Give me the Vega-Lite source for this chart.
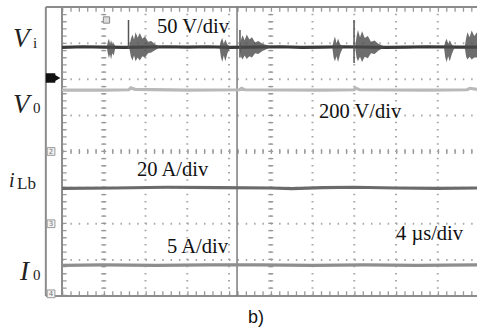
{
  "$schema": "https://vega.github.io/schema/vega-lite/v6.json",
  "width": 432,
  "height": 289,
  "padding": {"left": 45, "top": 7, "right": 0, "bottom": 33},
  "autosize": {"type": "none"},
  "background": "white",
  "config": {"view": {"stroke": null}},
  "datasets": {
    "hdots": [{"v": 1}, {"v": 2}, {"v": 3}, {"v": 4}, {"v": 5}, {"v": 6}, {"v": 7}],
    "hticks": [{"v": 4}, {"v": 7.94}, {"v": 0.06}],
    "vdots": [{"t": 4}, {"t": 8}, {"t": 12}, {"t": 16}, {"t": 20}, {"t": 24}, {"t": 28}, {"t": 32}, {"t": 36}],
    "vticks": [{"t": 4}, {"t": 20}, {"t": 0.2}],
    "hborders": [{"v": 0}, {"v": 8}],
    "vborders": [{"t": -1.55}, {"t": 0}],
    "cursor": [{"t": 16.77}],
    "traces": [
      {"series": "Vi", "t": 0, "v": 6.88}, {"series": "Vi", "t": 2, "v": 6.9}, {"series": "Vi", "t": 4, "v": 6.89}, {"series": "Vi", "t": 6, "v": 6.88}, {"series": "Vi", "t": 10, "v": 6.9}, {"series": "Vi", "t": 12, "v": 6.89}, {"series": "Vi", "t": 14, "v": 6.9}, {"series": "Vi", "t": 16, "v": 6.88}, {"series": "Vi", "t": 18, "v": 6.89}, {"series": "Vi", "t": 21, "v": 6.9}, {"series": "Vi", "t": 23, "v": 6.88}, {"series": "Vi", "t": 25, "v": 6.89}, {"series": "Vi", "t": 27, "v": 6.9}, {"series": "Vi", "t": 31, "v": 6.88}, {"series": "Vi", "t": 33, "v": 6.89}, {"series": "Vi", "t": 35, "v": 6.9}, {"series": "Vi", "t": 38, "v": 6.89}, {"series": "Vi", "t": 39.76, "v": 6.89},
      {"series": "V0", "t": 0, "v": 5.7}, {"series": "V0", "t": 4, "v": 5.7}, {"series": "V0", "t": 6.4, "v": 5.71}, {"series": "V0", "t": 6.6, "v": 5.76}, {"series": "V0", "t": 7, "v": 5.72}, {"series": "V0", "t": 12, "v": 5.7}, {"series": "V0", "t": 17, "v": 5.71}, {"series": "V0", "t": 17.2, "v": 5.75}, {"series": "V0", "t": 17.5, "v": 5.71}, {"series": "V0", "t": 25, "v": 5.7}, {"series": "V0", "t": 28, "v": 5.71}, {"series": "V0", "t": 28.1, "v": 5.76}, {"series": "V0", "t": 28.5, "v": 5.71}, {"series": "V0", "t": 35, "v": 5.7}, {"series": "V0", "t": 38.8, "v": 5.71}, {"series": "V0", "t": 39.1, "v": 5.75}, {"series": "V0", "t": 39.76, "v": 5.72},
      {"series": "iLb", "t": 0, "v": 2.98}, {"series": "iLb", "t": 5, "v": 2.99}, {"series": "iLb", "t": 10, "v": 3.01}, {"series": "iLb", "t": 15, "v": 3.0}, {"series": "iLb", "t": 20, "v": 2.99}, {"series": "iLb", "t": 22, "v": 2.97}, {"series": "iLb", "t": 25, "v": 3.0}, {"series": "iLb", "t": 28, "v": 3.01}, {"series": "iLb", "t": 32, "v": 2.99}, {"series": "iLb", "t": 36, "v": 2.98}, {"series": "iLb", "t": 39.76, "v": 2.99},
      {"series": "I0", "t": 0, "v": 0.85}, {"series": "I0", "t": 4, "v": 0.86}, {"series": "I0", "t": 9, "v": 0.85}, {"series": "I0", "t": 14, "v": 0.86}, {"series": "I0", "t": 19, "v": 0.86}, {"series": "I0", "t": 24, "v": 0.85}, {"series": "I0", "t": 29, "v": 0.86}, {"series": "I0", "t": 34, "v": 0.85}, {"series": "I0", "t": 39.76, "v": 0.86}
    ],
    "bursts": [
      {"b": 1, "t": 4.3, "hi": 6.91, "lo": 6.87}, {"b": 1, "t": 4.4, "hi": 7.05, "lo": 6.7}, {"b": 1, "t": 4.5, "hi": 7.12, "lo": 6.58}, {"b": 1, "t": 4.6, "hi": 6.98, "lo": 6.7}, {"b": 1, "t": 4.7, "hi": 7.08, "lo": 6.55}, {"b": 1, "t": 4.82, "hi": 6.97, "lo": 6.72}, {"b": 1, "t": 4.95, "hi": 7.0, "lo": 6.66}, {"b": 1, "t": 5.1, "hi": 6.92, "lo": 6.86},
      {"b": 2, "t": 6.45, "hi": 6.92, "lo": 6.86}, {"b": 2, "t": 6.6, "hi": 7.12, "lo": 6.62}, {"b": 2, "t": 6.75, "hi": 7.24, "lo": 6.52}, {"b": 2, "t": 6.9, "hi": 7.1, "lo": 6.66}, {"b": 2, "t": 7.05, "hi": 7.3, "lo": 6.5}, {"b": 2, "t": 7.25, "hi": 7.15, "lo": 6.6}, {"b": 2, "t": 7.45, "hi": 7.28, "lo": 6.52}, {"b": 2, "t": 7.7, "hi": 7.12, "lo": 6.64}, {"b": 2, "t": 7.95, "hi": 7.18, "lo": 6.6}, {"b": 2, "t": 8.25, "hi": 7.04, "lo": 6.72}, {"b": 2, "t": 8.55, "hi": 7.06, "lo": 6.74}, {"b": 2, "t": 8.9, "hi": 6.97, "lo": 6.8}, {"b": 2, "t": 9.3, "hi": 6.92, "lo": 6.87},
      {"b": 3, "t": 15.1, "hi": 6.91, "lo": 6.87}, {"b": 3, "t": 15.22, "hi": 7.06, "lo": 6.62}, {"b": 3, "t": 15.35, "hi": 7.14, "lo": 6.48}, {"b": 3, "t": 15.5, "hi": 6.98, "lo": 6.66}, {"b": 3, "t": 15.65, "hi": 7.1, "lo": 6.5}, {"b": 3, "t": 15.85, "hi": 6.96, "lo": 6.72}, {"b": 3, "t": 16.1, "hi": 6.91, "lo": 6.87},
      {"b": 4, "t": 17.0, "hi": 6.92, "lo": 6.86}, {"b": 4, "t": 17.15, "hi": 7.1, "lo": 6.62}, {"b": 4, "t": 17.3, "hi": 7.22, "lo": 6.55}, {"b": 4, "t": 17.5, "hi": 7.08, "lo": 6.66}, {"b": 4, "t": 17.7, "hi": 7.24, "lo": 6.56}, {"b": 4, "t": 17.95, "hi": 7.1, "lo": 6.64}, {"b": 4, "t": 18.2, "hi": 7.16, "lo": 6.6}, {"b": 4, "t": 18.5, "hi": 7.02, "lo": 6.72}, {"b": 4, "t": 18.8, "hi": 7.06, "lo": 6.7}, {"b": 4, "t": 19.2, "hi": 6.98, "lo": 6.78}, {"b": 4, "t": 19.9, "hi": 6.92, "lo": 6.87},
      {"b": 5, "t": 25.9, "hi": 6.91, "lo": 6.87}, {"b": 5, "t": 26.02, "hi": 7.06, "lo": 6.6}, {"b": 5, "t": 26.15, "hi": 7.18, "lo": 6.5}, {"b": 5, "t": 26.3, "hi": 7.0, "lo": 6.64}, {"b": 5, "t": 26.45, "hi": 7.12, "lo": 6.48}, {"b": 5, "t": 26.65, "hi": 6.97, "lo": 6.7}, {"b": 5, "t": 26.9, "hi": 6.91, "lo": 6.87},
      {"b": 6, "t": 28.1, "hi": 6.92, "lo": 6.86}, {"b": 6, "t": 28.22, "hi": 7.18, "lo": 6.6}, {"b": 6, "t": 28.35, "hi": 7.36, "lo": 6.5}, {"b": 6, "t": 28.55, "hi": 7.16, "lo": 6.62}, {"b": 6, "t": 28.75, "hi": 7.33, "lo": 6.48}, {"b": 6, "t": 29.0, "hi": 7.14, "lo": 6.62}, {"b": 6, "t": 29.3, "hi": 7.2, "lo": 6.58}, {"b": 6, "t": 29.6, "hi": 7.04, "lo": 6.72}, {"b": 6, "t": 29.95, "hi": 7.07, "lo": 6.7}, {"b": 6, "t": 30.3, "hi": 6.98, "lo": 6.79}, {"b": 6, "t": 30.8, "hi": 6.92, "lo": 6.87},
      {"b": 7, "t": 36.6, "hi": 6.91, "lo": 6.87}, {"b": 7, "t": 36.72, "hi": 7.04, "lo": 6.6}, {"b": 7, "t": 36.85, "hi": 7.12, "lo": 6.48}, {"b": 7, "t": 37.0, "hi": 6.98, "lo": 6.64}, {"b": 7, "t": 37.15, "hi": 7.08, "lo": 6.5}, {"b": 7, "t": 37.35, "hi": 6.96, "lo": 6.7}, {"b": 7, "t": 37.6, "hi": 6.91, "lo": 6.87},
      {"b": 8, "t": 38.6, "hi": 6.92, "lo": 6.86}, {"b": 8, "t": 38.72, "hi": 7.14, "lo": 6.62}, {"b": 8, "t": 38.85, "hi": 7.3, "lo": 6.55}, {"b": 8, "t": 39.05, "hi": 7.16, "lo": 6.62}, {"b": 8, "t": 39.25, "hi": 7.35, "lo": 6.55}, {"b": 8, "t": 39.5, "hi": 7.2, "lo": 6.6}, {"b": 8, "t": 39.76, "hi": 7.3, "lo": 6.6}
    ],
    "spikes": [
      {"t": 6.37, "hi": 7.64, "lo": 6.85},
      {"t": 17.05, "hi": 7.36, "lo": 6.6},
      {"t": 27.98, "hi": 7.64, "lo": 6.45}
    ],
    "annot": [
      {"label": "50 V/div", "t": 9.1, "v": 7.28},
      {"label": "200 V/div", "t": 24.62, "v": 4.93},
      {"label": "20 A/div", "t": 7.19, "v": 3.32},
      {"label": "5 A/div", "t": 10.06, "v": 1.19},
      {"label": "4 µs/div", "t": 32.0, "v": 1.55}
    ],
    "bigital": [
      {"label": "V", "t": -4.69, "v": 6.893},
      {"label": "V", "t": -4.69, "v": 5.066},
      {"label": "I", "t": -4.02, "v": 0.443}
    ],
    "smallital": [{"label": "i", "t": -5.08, "v": 3.017}],
    "subs": [
      {"label": "i", "t": -2.78, "v": 6.865},
      {"label": "0", "t": -2.78, "v": 5.066},
      {"label": "0", "t": -2.78, "v": 0.443}
    ],
    "subLb": [{"label": "Lb", "t": -4.31, "v": 2.962}],
    "caption": [{"label": "b)", "t": 17.82, "v": -0.747}],
    "chbox": [{"t": -1.05, "v": 4, "label": "2"}, {"t": -1.05, "v": 2, "label": "3"}, {"t": -1.05, "v": 0.06, "label": "4"}],
    "ch1": [{"t": -1.1, "v": 6.035}],
    "ch1arrow": [{"t": -0.45, "v": 6.035}],
    "trig": [{"t": 4.26, "v": 7.64}]
  },
  "layer": [
    {
      "data": {"name": "hdots"},
      "mark": {"type": "rule", "color": "#a8a8a8", "strokeWidth": 2, "strokeDash": [1.5, 6.85]},
      "encoding": {
        "y": {"field": "v", "type": "quantitative", "scale": {"domain": [0, 8], "nice": false, "zero": false}, "axis": null},
        "x": {"datum": 0, "type": "quantitative", "scale": {"domain": [-1.63, 39.76], "nice": false, "zero": false}, "axis": null},
        "x2": {"datum": 39.76}
      }
    },
    {
      "data": {"name": "hticks"},
      "mark": {"type": "rule", "color": "#999999", "strokeWidth": 5, "strokeDash": [1.3, 7.05]},
      "encoding": {
        "y": {"field": "v", "type": "quantitative", "scale": {"domain": [0, 8], "nice": false, "zero": false}, "axis": null},
        "x": {"datum": 0, "type": "quantitative", "scale": {"domain": [-1.63, 39.76], "nice": false, "zero": false}, "axis": null},
        "x2": {"datum": 39.76}
      }
    },
    {
      "data": {"name": "vdots"},
      "mark": {"type": "rule", "color": "#a8a8a8", "strokeWidth": 2, "strokeDash": [1.5, 5.7]},
      "encoding": {
        "x": {"field": "t", "type": "quantitative", "scale": {"domain": [-1.63, 39.76], "nice": false, "zero": false}, "axis": null},
        "y": {"datum": 0, "type": "quantitative", "scale": {"domain": [0, 8], "nice": false, "zero": false}, "axis": null},
        "y2": {"datum": 8}
      }
    },
    {
      "data": {"name": "vticks"},
      "mark": {"type": "rule", "color": "#999999", "strokeWidth": 5, "strokeDash": [1.3, 5.9]},
      "encoding": {
        "x": {"field": "t", "type": "quantitative", "scale": {"domain": [-1.63, 39.76], "nice": false, "zero": false}, "axis": null},
        "y": {"datum": 0, "type": "quantitative", "scale": {"domain": [0, 8], "nice": false, "zero": false}, "axis": null},
        "y2": {"datum": 8}
      }
    },
    {
      "data": {"name": "hborders"},
      "mark": {"type": "rule", "color": "#8c8c8c", "strokeWidth": 2},
      "encoding": {
        "y": {"field": "v", "type": "quantitative", "scale": {"domain": [0, 8], "nice": false, "zero": false}, "axis": null},
        "x": {"datum": -1.55, "type": "quantitative", "scale": {"domain": [-1.63, 39.76], "nice": false, "zero": false}, "axis": null},
        "x2": {"datum": 39.76}
      }
    },
    {
      "data": {"name": "vborders"},
      "mark": {"type": "rule", "color": "#8c8c8c", "strokeWidth": 2},
      "encoding": {
        "x": {"field": "t", "type": "quantitative", "scale": {"domain": [-1.63, 39.76], "nice": false, "zero": false}, "axis": null},
        "y": {"datum": 0, "type": "quantitative", "scale": {"domain": [0, 8], "nice": false, "zero": false}, "axis": null},
        "y2": {"datum": 8}
      }
    },
    {
      "data": {"name": "cursor"},
      "mark": {"type": "rule", "color": "#7c7c7c", "strokeWidth": 1.5},
      "encoding": {
        "x": {"field": "t", "type": "quantitative", "scale": {"domain": [-1.63, 39.76], "nice": false, "zero": false}, "axis": null},
        "y": {"datum": 0, "type": "quantitative", "scale": {"domain": [0, 8], "nice": false, "zero": false}, "axis": null},
        "y2": {"datum": 8}
      }
    },
    {
      "data": {"name": "traces"},
      "mark": {"type": "line", "strokeWidth": 3.2, "interpolate": "linear"},
      "encoding": {
        "x": {"field": "t", "type": "quantitative", "scale": {"domain": [-1.63, 39.76], "nice": false, "zero": false}, "axis": null},
        "y": {"field": "v", "type": "quantitative", "scale": {"domain": [0, 8], "nice": false, "zero": false}, "axis": null},
        "color": {"field": "series", "type": "nominal", "scale": {"domain": ["Vi", "V0", "iLb", "I0"], "range": ["#3b3b3b", "#b9b9b9", "#6b6b6b", "#8e8e8e"]}, "legend": null}
      }
    },
    {
      "data": {"name": "bursts"},
      "mark": {"type": "area", "color": "#4a4a4a", "opacity": 0.8},
      "encoding": {
        "x": {"field": "t", "type": "quantitative", "scale": {"domain": [-1.63, 39.76], "nice": false, "zero": false}, "axis": null},
        "y": {"field": "hi", "type": "quantitative", "scale": {"domain": [0, 8], "nice": false, "zero": false}, "axis": null},
        "y2": {"field": "lo"},
        "detail": {"field": "b", "type": "nominal"}
      }
    },
    {
      "data": {"name": "spikes"},
      "mark": {"type": "rule", "color": "#555555", "strokeWidth": 1.5},
      "encoding": {
        "x": {"field": "t", "type": "quantitative", "scale": {"domain": [-1.63, 39.76], "nice": false, "zero": false}, "axis": null},
        "y": {"field": "hi", "type": "quantitative", "scale": {"domain": [0, 8], "nice": false, "zero": false}, "axis": null},
        "y2": {"field": "lo"}
      }
    },
    {
      "data": {"name": "chbox"},
      "mark": {"type": "point", "shape": "square", "filled": true, "fill": "#f2f2f2", "stroke": "#999999", "strokeWidth": 1, "size": 60, "opacity": 1},
      "encoding": {
        "x": {"field": "t", "type": "quantitative", "scale": {"domain": [-1.63, 39.76], "nice": false, "zero": false}, "axis": null},
        "y": {"field": "v", "type": "quantitative", "scale": {"domain": [0, 8], "nice": false, "zero": false}, "axis": null}
      }
    },
    {
      "data": {"name": "chbox"},
      "mark": {"type": "text", "fontSize": 7, "font": "DejaVu Sans", "color": "#777777", "align": "center", "baseline": "middle"},
      "encoding": {
        "x": {"field": "t", "type": "quantitative", "scale": {"domain": [-1.63, 39.76], "nice": false, "zero": false}, "axis": null},
        "y": {"field": "v", "type": "quantitative", "scale": {"domain": [0, 8], "nice": false, "zero": false}, "axis": null},
        "text": {"field": "label"}
      }
    },
    {
      "data": {"name": "trig"},
      "mark": {"type": "point", "shape": "square", "filled": true, "fill": "#dddddd", "stroke": "#888888", "strokeWidth": 1, "size": 40, "opacity": 1},
      "encoding": {
        "x": {"field": "t", "type": "quantitative", "scale": {"domain": [-1.63, 39.76], "nice": false, "zero": false}, "axis": null},
        "y": {"field": "v", "type": "quantitative", "scale": {"domain": [0, 8], "nice": false, "zero": false}, "axis": null}
      }
    },
    {
      "data": {"name": "ch1"},
      "mark": {"type": "point", "shape": "square", "filled": true, "color": "#111111", "size": 90, "opacity": 1},
      "encoding": {
        "x": {"field": "t", "type": "quantitative", "scale": {"domain": [-1.63, 39.76], "nice": false, "zero": false}, "axis": null},
        "y": {"field": "v", "type": "quantitative", "scale": {"domain": [0, 8], "nice": false, "zero": false}, "axis": null}
      }
    },
    {
      "data": {"name": "ch1arrow"},
      "mark": {"type": "point", "shape": "triangle-right", "filled": true, "color": "#111111", "size": 50, "opacity": 1},
      "encoding": {
        "x": {"field": "t", "type": "quantitative", "scale": {"domain": [-1.63, 39.76], "nice": false, "zero": false}, "axis": null},
        "y": {"field": "v", "type": "quantitative", "scale": {"domain": [0, 8], "nice": false, "zero": false}, "axis": null}
      }
    },
    {
      "data": {"name": "annot"},
      "mark": {"type": "text", "font": "Liberation Serif", "fontSize": 20.5, "color": "#111111", "align": "left", "baseline": "alphabetic"},
      "encoding": {
        "x": {"field": "t", "type": "quantitative", "scale": {"domain": [-1.63, 39.76], "nice": false, "zero": false}, "axis": null},
        "y": {"field": "v", "type": "quantitative", "scale": {"domain": [0, 8], "nice": false, "zero": false}, "axis": null},
        "text": {"field": "label"}
      }
    },
    {
      "data": {"name": "bigital"},
      "mark": {"type": "text", "font": "Liberation Serif", "fontSize": 27, "fontStyle": "italic", "color": "#222222", "align": "left", "baseline": "alphabetic"},
      "encoding": {
        "x": {"field": "t", "type": "quantitative", "scale": {"domain": [-1.63, 39.76], "nice": false, "zero": false}, "axis": null},
        "y": {"field": "v", "type": "quantitative", "scale": {"domain": [0, 8], "nice": false, "zero": false}, "axis": null},
        "text": {"field": "label"}
      }
    },
    {
      "data": {"name": "smallital"},
      "mark": {"type": "text", "font": "Liberation Serif", "fontSize": 20, "fontStyle": "italic", "color": "#222222", "align": "left", "baseline": "alphabetic"},
      "encoding": {
        "x": {"field": "t", "type": "quantitative", "scale": {"domain": [-1.63, 39.76], "nice": false, "zero": false}, "axis": null},
        "y": {"field": "v", "type": "quantitative", "scale": {"domain": [0, 8], "nice": false, "zero": false}, "axis": null},
        "text": {"field": "label"}
      }
    },
    {
      "data": {"name": "subs"},
      "mark": {"type": "text", "font": "Liberation Serif", "fontSize": 15, "color": "#222222", "align": "left", "baseline": "alphabetic"},
      "encoding": {
        "x": {"field": "t", "type": "quantitative", "scale": {"domain": [-1.63, 39.76], "nice": false, "zero": false}, "axis": null},
        "y": {"field": "v", "type": "quantitative", "scale": {"domain": [0, 8], "nice": false, "zero": false}, "axis": null},
        "text": {"field": "label"}
      }
    },
    {
      "data": {"name": "subLb"},
      "mark": {"type": "text", "font": "Liberation Serif", "fontSize": 17, "color": "#222222", "align": "left", "baseline": "alphabetic"},
      "encoding": {
        "x": {"field": "t", "type": "quantitative", "scale": {"domain": [-1.63, 39.76], "nice": false, "zero": false}, "axis": null},
        "y": {"field": "v", "type": "quantitative", "scale": {"domain": [0, 8], "nice": false, "zero": false}, "axis": null},
        "text": {"field": "label"}
      }
    },
    {
      "data": {"name": "caption"},
      "mark": {"type": "text", "font": "Liberation Sans", "fontSize": 18, "color": "#111111", "align": "left", "baseline": "alphabetic"},
      "encoding": {
        "x": {"field": "t", "type": "quantitative", "scale": {"domain": [-1.63, 39.76], "nice": false, "zero": false}, "axis": null},
        "y": {"field": "v", "type": "quantitative", "scale": {"domain": [0, 8], "nice": false, "zero": false}, "axis": null},
        "text": {"field": "label"}
      }
    }
  ]
}
